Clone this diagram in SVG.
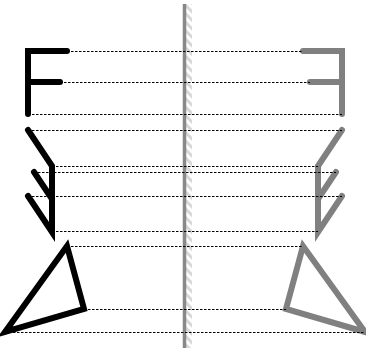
<svg xmlns="http://www.w3.org/2000/svg" width="366" height="351" viewBox="0 0 366 351">
<style>
.orig{fill:none;stroke:#000;stroke-width:6;stroke-linejoin:miter;stroke-linecap:round}
.refl{fill:none;stroke:#808080;stroke-width:6;stroke-linejoin:miter;stroke-linecap:round}
.dash{stroke:#000;stroke-width:1;stroke-dasharray:2.5 1.5;fill:none}
</style>
<defs>
<pattern id="hatch" patternUnits="userSpaceOnUse" width="6" height="6" patternTransform="rotate(-45)">
<rect width="6" height="6" fill="#fff"/>
<rect width="3" height="6" fill="#d8d8d8"/>
</pattern>
</defs>
<g id="mirror">
<rect x="186" y="4" width="6" height="344" fill="url(#hatch)"/>
<line x1="184.5" y1="4" x2="184.5" y2="348" stroke="#888" stroke-width="3.5"/>
</g>
<g id="F">
<path class="orig" d="M67,51 H28 V114 M28,82 H60"/>
</g>
<g id="F-reflected">
<path class="refl" d="M303,51 H342 V114 M342,82 H310"/>
</g>
<g id="arrow">
<path class="orig" d="M28,130 L52,166 V232 L28,196 M34,172 L52,199"/>
</g>
<g id="arrow-reflected">
<path class="refl" d="M342,130 L318,166 V232 L342,196 M336,172 L318,199"/>
</g>
<g id="triangle">
<path class="orig" d="M67,246 L84,309 L5,332 Z"/>
</g>
<g id="triangle-reflected">
<path class="refl" d="M303,246 L286,309 L365,332 Z"/>
</g>
<g id="connectors">
<line class="dash" x1="67" y1="51.5" x2="303" y2="51.5"/>
<line class="dash" x1="60" y1="82.5" x2="310" y2="82.5"/>
<line class="dash" x1="28" y1="114.5" x2="342" y2="114.5"/>
<line class="dash" x1="28" y1="130.5" x2="342" y2="130.5"/>
<line class="dash" x1="52" y1="166.5" x2="318" y2="166.5"/>
<line class="dash" x1="34" y1="172.5" x2="336" y2="172.5"/>
<line class="dash" x1="28" y1="196.5" x2="342" y2="196.5"/>
<line class="dash" x1="52" y1="231.5" x2="318" y2="231.5"/>
<line class="dash" x1="67" y1="246.5" x2="303" y2="246.5"/>
<line class="dash" x1="84" y1="309.5" x2="286" y2="309.5"/>
<line class="dash" x1="5" y1="332.5" x2="365" y2="332.5"/>
</g>
</svg>
